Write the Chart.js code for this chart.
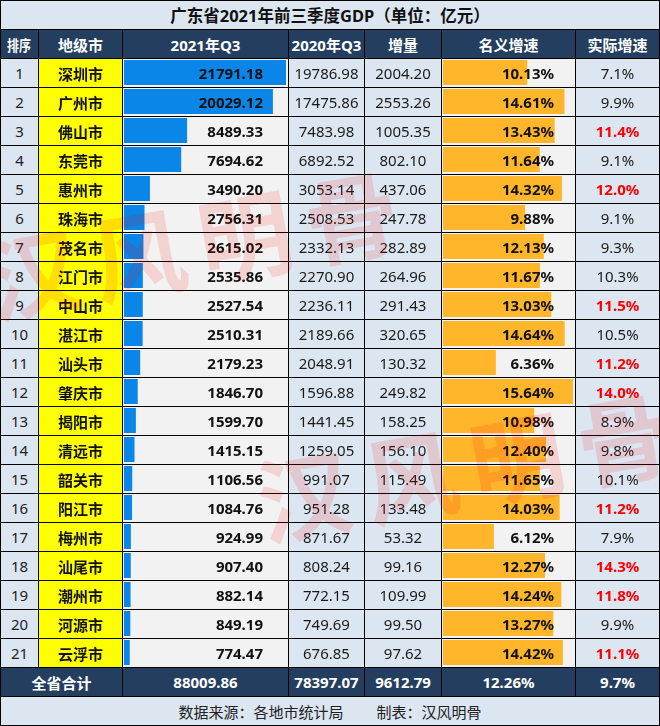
<!DOCTYPE html>
<html><head><meta charset="utf-8">
<script src="https://cdn.jsdelivr.net/npm/chart.js@4/dist/chart.umd.min.js"></script>
<style>
html,body{margin:0;padding:0;background:#fff;}
#wrap{position:relative;width:660px;height:726px;background:#000;overflow:hidden;font-family:'Noto Sans','Noto Sans CJK SC',sans-serif;}
.bg{position:absolute;z-index:1;}
.tx{position:absolute;z-index:3;display:flex;align-items:center;white-space:nowrap;font-size:15px;color:#1a1a1a;}
canvas.bar{position:absolute;z-index:2;}
.wm{position:absolute;z-index:4;font-family:'Noto Sans CJK SC',sans-serif;font-weight:700;font-size:94px;color:rgba(255,0,0,0.13);letter-spacing:14px;white-space:nowrap;pointer-events:none;transform-origin:center center;}
</style></head>
<body>
<div id="wrap">
<canvas id="gdpBars" class="bar" width="162" height="609" style="left:124px;top:58px;width:162px;height:609px"></canvas>
<canvas id="rateBars" class="bar" width="130" height="609" style="left:443px;top:58px;width:130px;height:609px"></canvas>
</div>
<script>
// ---- data ----
const title = '广东省2021年前三季度GDP（单位：亿元）';
const headers = ['排序','地级市','2021年Q3','2020年Q3','增量','名义增速','实际增速'];
const cities = ['深圳市','广州市','佛山市','东莞市','惠州市','珠海市','茂名市','江门市','中山市','湛江市','汕头市','肇庆市','揭阳市','清远市','韶关市','阳江市','梅州市','汕尾市','潮州市','河源市','云浮市'];
const gdp2021 = [21791.18,20029.12,8489.33,7694.62,3490.20,2756.31,2615.02,2535.86,2527.54,2510.31,2179.23,1846.70,1599.70,1415.15,1106.56,1084.76,924.99,907.40,882.14,849.19,774.47];
const gdp2020 = [19786.98,17475.86,7483.98,6892.52,3053.14,2508.53,2332.13,2270.90,2236.11,2189.66,2048.91,1596.88,1441.45,1259.05,991.07,951.28,871.67,808.24,772.15,749.69,676.85];
const increase = [2004.20,2553.26,1005.35,802.10,437.06,247.78,282.89,264.96,291.43,320.65,130.32,249.82,158.25,156.10,115.49,133.48,53.32,99.16,109.99,99.50,97.62];
const nominalGrowth = [10.13,14.61,13.43,11.64,14.32,9.88,12.13,11.67,13.03,14.64,6.36,15.64,10.98,12.40,11.65,14.03,6.12,12.27,14.24,13.27,14.42];
const realGrowth = [7.1,9.9,11.4,9.1,12.0,9.1,9.3,10.3,11.5,10.5,11.2,14.0,8.9,9.8,10.1,11.2,7.9,14.3,11.8,9.9,11.1];
const totalLabel = '全省合计';
const totals = ['88009.86','78397.07','9612.79','12.26%','9.7%'];
const footerParts = ['数据来源：各地市统计局','制表：汉风明骨'];
const watermark = '汉风明骨';

// ---- layout ----
const wrap = document.getElementById('wrap');
const colEdges = [0,38,122,288,364,441,575,659];
const rowTop = 58, rowH = 29, n = cities.length;
const NAVY='#243e60', LB='#dce6f1', GRAY='#f2f2f2', YEL='#ffff00';

function bg(x0,x1,y0,y1,color){
  const d=document.createElement('div');d.className='bg';
  d.style.cssText+=`left:${x0+1}px;top:${y0+1}px;width:${x1-x0-1}px;height:${y1-y0-1}px;background:${color}`;
  wrap.appendChild(d);
}
function tx(x0,x1,y0,y1,text,opt={}){
  const d=document.createElement('div');d.className='tx';
  const align=opt.align||'center';
  d.style.left=(x0+1)+'px';d.style.top=(y0+1)+'px';d.style.width=(x1-x0-1)+'px';d.style.height=(y1-y0-1)+'px';
  d.style.justifyContent= align==='right'?'flex-end':'center';
  if(opt.pr) d.style.paddingRight=opt.pr+'px', d.style.boxSizing='border-box';
  if(opt.bold) d.style.fontWeight='700';
  if(opt.color) d.style.color=opt.color;
  if(opt.size) d.style.fontSize=opt.size+'px';
  const s=document.createElement('span');s.textContent=text;
  if(opt.sx){s.style.display='inline-block';s.style.transform=`scaleX(${opt.sx})`;}
  d.appendChild(s);
  wrap.appendChild(d);
  return d;
}

// title
bg(0,659,0,29,LB);
tx(0,659,0,29,title,{bold:true,size:16.5,color:'#111'});
// header
for(let c=0;c<7;c++){
  bg(colEdges[c],colEdges[c+1],29,58,NAVY);
  tx(colEdges[c],colEdges[c+1],29,58,headers[c],{bold:true,color:'#fff',sx:c===0?0.8:null});
}
// rows
for(let i=0;i<n;i++){
  const y0=rowTop+i*rowH,y1=y0+rowH;
  const bgs=[LB,YEL,GRAY,LB,LB,GRAY,LB];
  for(let c=0;c<7;c++) bg(colEdges[c],colEdges[c+1],y0,y1,bgs[c]);
  tx(colEdges[0],colEdges[1],y0,y1,String(i+1),{color:'#222'});
  tx(colEdges[1],colEdges[2],y0,y1,cities[i],{bold:true,color:'#111'});
  tx(colEdges[2],colEdges[3],y0,y1,gdp2021[i].toFixed(2),{bold:true,align:'right',pr:25,color:'#111'});
  tx(colEdges[3],colEdges[4],y0,y1,gdp2020[i].toFixed(2));
  tx(colEdges[4],colEdges[5],y0,y1,increase[i].toFixed(2));
  tx(colEdges[5],colEdges[6],y0,y1,nominalGrowth[i].toFixed(2)+'%',{bold:true,align:'right',pr:21,color:'#111'});
  const red=realGrowth[i]>=11;
  tx(colEdges[6],colEdges[7],y0,y1,realGrowth[i].toFixed(1)+'%',red?{bold:true,color:'#ff0000'}:{});
}
// totals
const ty0=rowTop+n*rowH, ty1=ty0+rowH;
bg(0,122,ty0,ty1,NAVY);
tx(0,122,ty0,ty1,totalLabel,{bold:true,color:'#fff'});
for(let c=2;c<7;c++){
  bg(colEdges[c],colEdges[c+1],ty0,ty1,NAVY);
  tx(colEdges[c],colEdges[c+1],ty0,ty1,totals[c-2],{bold:true,color:'#fff'});
}
// footer
bg(0,659,ty1,725,LB);
const f=tx(0,659,ty1,725,footerParts[0],{color:'#222'});
const s2=document.createElement('span');s2.textContent=footerParts[1];s2.style.marginLeft='33px';f.appendChild(s2);

// watermark
[[198,240],[470,462]].forEach(([cx,cy])=>{
  const w=document.createElement('div');w.className='wm';w.textContent=watermark;
  wrap.appendChild(w);
  const W=w.offsetWidth,H=w.offsetHeight;
  w.style.left=(cx-W/2)+'px';w.style.top=(cy-H/2)+'px';w.style.transform='rotate(-10deg)';
});

// ---- bars via Chart.js ----
function barChart(id,values,color){
  return new Chart(document.getElementById(id),{
    type:'bar',
    data:{labels:cities,datasets:[{data:values,backgroundColor:color,borderWidth:0,categoryPercentage:1,barPercentage:25/29}]},
    options:{indexAxis:'y',responsive:false,animation:false,devicePixelRatio:1,layout:{padding:0},
      plugins:{legend:{display:false},tooltip:{enabled:false}},
      scales:{x:{display:false,min:0,max:Math.max(...values)},y:{display:false}}}
  });
}
barChart('gdpBars',gdp2021,'#0a86e8');
barChart('rateBars',nominalGrowth,'#ffb62a');
</script>
</body></html>
